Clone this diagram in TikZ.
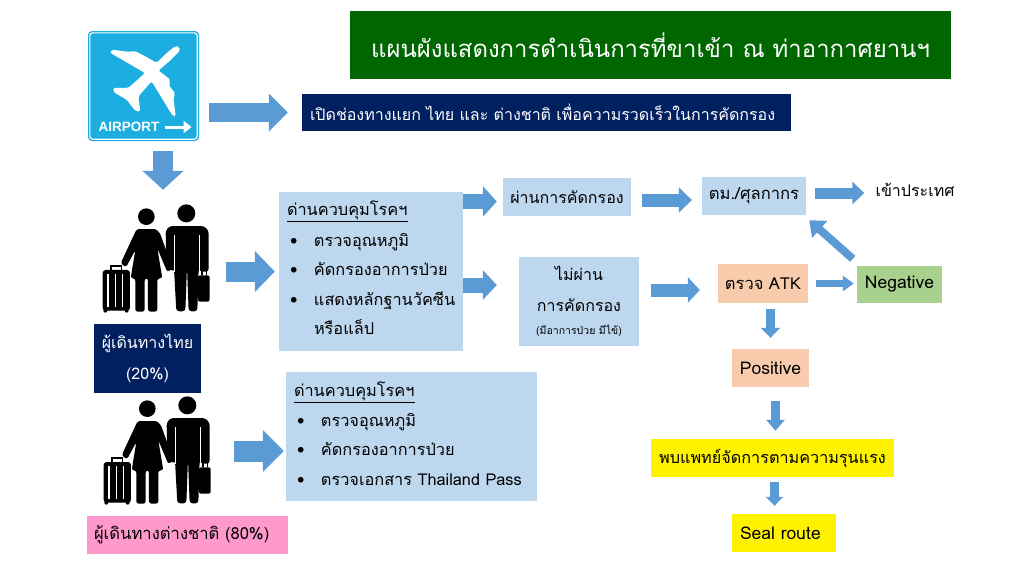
\documentclass[tikz,border=0pt]{standalone}
\usepackage{fontspec}
\setmainfont[Script=Thai]{Loma}
\newfontfamily\signfont{Liberation Sans}
\usetikzlibrary{arrows.meta,calc}
\definecolor{arrblue}{HTML}{5B9BD5}
\definecolor{boxblue}{HTML}{BDD7EE}
\definecolor{navy}{HTML}{002060}
\definecolor{titlegreen}{HTML}{006600}
\definecolor{atkorange}{HTML}{F8CBAD}
\definecolor{neggreen}{HTML}{A9D18E}
\definecolor{signblue}{HTML}{1CAEE0}
\definecolor{tagpink}{HTML}{FF99CC}
\newcommand{\fsize}[2]{\fontsize{#1}{#2}\selectfont}
\newcommand{\bul}{\makebox[27pt][l]{\hspace{3pt}\textbullet}}
\tikzset{
  travellers/.pic={
    \begin{scope}[x=0.3333pt,y=-0.3333pt]
    % woman
    \fill (145,50) circle (25);
    \fill[rounded corners=2.5pt] (116,87) -- (174,87) -- (186,100) -- (224,205) -- (208,216)
      -- (178,145) -- (193,235) -- (178,235) -- (178,335) -- (150,335) -- (150,235) -- (140,235)
      -- (140,335) -- (112,335) -- (112,235) -- (98,235) -- (112,150) -- (84,202) -- (68,190) -- cycle;
    % man
    \fill (265,40) circle (27);
    \fill[rounded corners=3pt] (215,78) -- (318,78) -- (332,92) -- (332,215) -- (306,215)
      -- (302,205) -- (298,334) -- (272,334) -- (267,200) -- (262,334) -- (235,334) -- (228,205)
      -- (222,215) -- (205,200) -- (203,92) -- cycle;
    \draw[white,line width=0.9pt] (228,105) -- (228,215) (303,105) -- (303,215);
    % briefcase
    \fill[rounded corners=2pt] (300,226) rectangle (335,305);
    \draw[line width=1.2pt] (312,226) -- (312,212) -- (326,212) -- (326,226);
    % suitcase
    \fill[rounded corners=3pt] (14,210) rectangle (96,332);
    \fill (22,332) circle (6) (86,332) circle (6);
    \draw[line width=1.2pt] (39,210) -- (39,198) -- (71,198) -- (71,210);
    \foreach \sx in {30,52,74} {\draw[white,line width=1.4pt] (\sx,222) -- (\sx,320);}
    \end{scope}
  }
}
\begin{document}
\begin{tikzpicture}[x=1pt,y=-1pt,
  box/.style={rectangle, fill=boxblue, inner sep=0pt, align=center, font=\fsize{16}{20}},
  listbox/.style={box, align=left, inner xsep=8pt, font=\fsize{16.3}{29.5}},
  latin/.style={font=\fsize{17.5}{20}},
  bigarr/.style n args={3}{draw=arrblue, line width=#1,
    -{Triangle[length=#3,width=#2,fill=arrblue]}}
]
\useasboundingbox (0,0) rectangle (1024,576);

% sign
\node[rectangle, fill=signblue, rounded corners=4pt, minimum width=111pt, minimum height=110pt,
      inner sep=0pt] (airport) at (143.5,86) {};
\draw[white, line width=1.1pt, rounded corners=3pt]
  ([shift={(2pt,2pt)}]airport.south west) rectangle ([shift={(-2pt,-2pt)}]airport.north east);
\begin{scope}[shift={(85,28)},x=0.3333pt,y=-0.3333pt]
\fill[white, rounded corners=2pt] (283,55) -- (285,68) -- (255,98) -- (220,128) -- (248,148) -- (258,160)
  -- (250,170) -- (272,198) -- (265,208) -- (272,265) -- (264,265) -- (200,160) -- (160,205)
  -- (166,250) -- (152,250) -- (125,215) -- (85,192) -- (85,180) -- (130,180) -- (180,135) -- (75,74)
  -- (80,65) -- (135,72) -- (148,68) -- (190,90) -- (215,105) -- (245,75) -- (270,55) -- cycle;
\end{scope}
\node[white, inner sep=0pt, font=\signfont\bfseries\fsize{13.5}{16}] (signtext) at (129,127) {AIRPORT};
\draw[white, line width=3pt, -{Triangle[length=8pt,width=12pt]}]
  ([xshift=5pt]signtext.east) -- ([xshift=32pt]signtext.east);

% header
\node[box, fill=titlegreen, text=white, minimum width=601pt, minimum height=68pt,
      font=\fsize{23.9}{28}] (title) at (650.5,45)
  {แผนผังแสดงการดำเนินการที่ขาเข้า ณ ท่าอากาศยานฯ};
\node[box, fill=navy, text=white, align=left, text width=473pt, inner xsep=8pt, minimum height=37pt] (gate) at (546.5,112.5)
  {เปิดช่องทางแยก ไทย และ ต่างชาติ เพื่อความรวดเร็วในการคัดกรอง};

% travellers
\node[inner sep=0pt, minimum width=108pt, minimum height=108pt] (thai) at (156,259) {};
\pic at (98,200) {travellers};
\node[box, fill=navy, text=white, minimum width=107pt, minimum height=69pt,
      font=\fsize{16}{31}] (thaitag) at (147.5,358.5) {ผู้เดินทางไทย\\(20\%)};
\node[inner sep=0pt, minimum width=108pt, minimum height=108pt] (inter) at (157,451) {};
\pic at (99,392) {travellers};
\node[box, fill=tagpink, align=left, text width=187pt, inner xsep=7pt, minimum height=38pt,
      font=\fsize{16.6}{20}] (intertag) at (187.5,535)
  {ผู้เดินทางต่างชาติ (80\%)};

% checkpoints
\node[listbox, text width=168pt, minimum height=159pt] (ctrlthai) at (371,271.5)
  {\underline{ด่านควบคุมโรคฯ}\\[1pt]
   \bul ตรวจอุณหภูมิ\\
   \bul คัดกรองอาการป่วย\\
   \bul แสดงหลักฐานวัคซีน\\
   \hspace*{27pt}หรือแล็ป\rule[-7pt]{0pt}{0pt}};
\node[listbox, text width=235pt, minimum height=129pt] (ctrlinter) at (411.5,436.5)
  {\underline{ด่านควบคุมโรคฯ}\\[0.5pt]
   \bul ตรวจอุณหภูมิ\\
   \bul คัดกรองอาการป่วย\\
   \bul ตรวจเอกสาร Thailand Pass\rule[-6pt]{0pt}{0pt}};

\node[box, minimum width=128pt, minimum height=38pt] (pass) at (567,197) {ผ่านการคัดกรอง};
\node[box, minimum width=104pt, minimum height=38pt, font=\fsize{16.6}{20}] (imm) at (754,196) {ตม./ศุลกากร};
\node[inner sep=0pt, font=\fsize{16}{20}] (enter) at (915,190) {เข้าประเทศ};
\node[box, minimum width=120pt, minimum height=89pt, font=\fsize{16}{31}] (fail) at (579,301.5)
  {ไม่ผ่าน\\การคัดกรอง\\[-8pt]{\fsize{10.5}{14}(มีอาการป่วย มีไข้)}};
\node[box, fill=atkorange, minimum width=90pt, minimum height=39pt, font=\fsize{16.5}{20}] (atk) at (763,283.5) {ตรวจ ATK};
\node[box, fill=neggreen, minimum width=85pt, minimum height=37pt, latin] (neg) at (899.5,284.5) {Negative};
\node[box, fill=atkorange, minimum width=77pt, minimum height=38pt, latin] (pos) at (770.5,368) {Positive};
\node[box, fill=yellow, minimum width=243pt, minimum height=38pt, font=\fsize{16.2}{20}] (doc) at (772.5,458)
  {พบแพทย์จัดการตามความรุนแรง};
\node[box, fill=yellow, align=left, text width=88pt, inner xsep=8pt, minimum height=38pt, latin] (seal) at (784,533) {Seal route};

% block arrows
\draw[bigarr={19pt}{37pt}{19pt}, shorten <=10pt, shorten >=14pt] (airport.east |- gate.west) -- (gate.west);
\draw[bigarr={20pt}{40pt}{19pt}, shorten <=10pt, shorten >=15pt] ([xshift=19.5pt]airport.south) -- ([xshift=7pt]thai.north);
\draw[bigarr={20pt}{40pt}{20pt}, shorten <=16pt, shorten >=4pt] (thai.east |- ctrlthai.west) -- (ctrlthai.west);
\draw[bigarr={21pt}{41pt}{21pt}, shorten <=23pt, shorten >=2pt] (inter.east) -- (inter.east -| ctrlinter.west);
\draw[bigarr={15pt}{30pt}{14pt}, shorten >=6pt] ([yshift=-4.5pt]pass.west -| ctrlthai.east) -- ([yshift=-4.5pt]pass.west);
\draw[bigarr={15pt}{29pt}{14pt}, shorten >=22pt] ([yshift=16.5pt]fail.west -| ctrlthai.east) -- ([yshift=16.5pt]fail.west);
\draw[bigarr={13pt}{25pt}{13pt}, shorten <=11pt, shorten >=10pt] ([yshift=-3pt]pass.east) -- ([yshift=-3pt]pass.east -| imm.west);
\draw[bigarr={11pt}{22pt}{12pt}, shorten <=9pt, shorten >=11pt] ([yshift=3pt]imm.east) -- ([yshift=3pt]imm.east -| enter.west);
\draw[bigarr={13pt}{25pt}{12pt}, shorten <=12pt, shorten >=18pt] ([yshift=11.5pt]fail.east) -- ([yshift=11.5pt]fail.east -| atk.west);
\draw[bigarr={7pt}{15pt}{11pt}, shorten <=8pt, shorten >=3pt] (atk.east) -- (atk.east -| neg.west);
\draw[bigarr={8pt}{22pt}{14pt}] ([shift={(-4pt,7pt)}]neg.north west) -- ([shift={(3pt,-5pt)}]imm.south east);
\draw[bigarr={9pt}{19pt}{10pt}, shorten <=6pt, shorten >=11pt] (pos.north |- atk.south) -- (pos.north);
\draw[bigarr={9pt}{18pt}{11pt}, shorten <=14pt, shorten >=8pt] ([xshift=5pt]pos.south) -- ([xshift=5pt]pos.south |- doc.north);
\draw[bigarr={9pt}{17pt}{9pt}, shorten <=5pt, shorten >=8pt] ([xshift=2pt]doc.south) -- ([xshift=2pt]doc.south |- seal.north);
\end{tikzpicture}
\end{document}
